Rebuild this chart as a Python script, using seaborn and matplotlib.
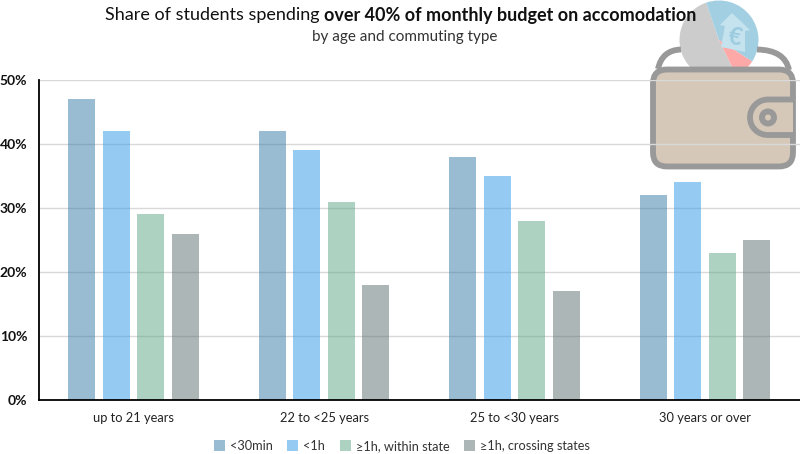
import matplotlib
matplotlib.use("Agg")
import matplotlib.pyplot as plt
import pandas as pd
import seaborn as sns
from matplotlib.patches import Circle, FancyBboxPatch, PathPatch, Polygon, Wedge
from matplotlib.path import Path

ages = ["up to 21 years", "22 to <25 years", "25 to <30 years", "30 years or over"]
commute = ["<30min", "<1h", "≥1h, within state", "≥1h, crossing states"]
under_30min = [47, 42, 38, 32]
under_1h = [42, 39, 35, 34]
within_state = [29, 31, 28, 23]
crossing_states = [26, 18, 17, 25]
colors = ["#377ba7", "#2d99e9", "#5da787", "#5d6f71"]

sns.set_style("white")
plt.rcParams["font.family"] = ["Lato", "DejaVu Sans"]

df = pd.DataFrame({
    "age": ages * 4,
    "commute": [c for c in commute for _ in ages],
    "share": under_30min + under_1h + within_state + crossing_states,
})

fig = plt.figure(figsize=(8, 4.54), dpi=100)
ax = fig.add_axes([38.5 / 800, 54 / 454, 761.5 / 800, 320 / 454])
ax.set_zorder(2)
ax.patch.set_visible(False)

# wallet icon sits behind the chart, gridlines run over it
icon = fig.add_axes([0, 0, 1, 1], zorder=1)
icon.set_xlim(0, 800)
icon.set_ylim(454, 0)
icon.axis("off")

gray = "#999999"
tan = "#d5c8b8"
pie_c = (719, 40)
# y axis is flipped here, so the angles run clockwise
icon.add_patch(Wedge(pie_c, 39.5, 64, 251, fc="#cccccc", ec="none"))
icon.add_patch(Wedge(pie_c, 39.5, -109, 33, fc="#a3cfe2", ec="none"))
icon.add_patch(Wedge(pie_c, 39.5, 33, 64, fc="#ffa8a8", ec="none"))
icon.add_patch(Polygon([(732, 13), (750, 30), (745, 31), (745, 52), (721, 47), (725, 26), (720, 25)],
                       fc="#c5e3ee", ec="none"))
icon.text(735, 37, "€", fontsize=17, fontweight="bold", color="#9ccbe0", ha="center", va="center", rotation=-12)

for verts in ([(658, 69), (662, 50), (681, 49.5)], [(757, 49.5), (785, 50), (789, 70)]):
    icon.add_patch(PathPatch(Path(verts, [Path.MOVETO, Path.CURVE3, Path.CURVE3]),
                             fc="none", ec=gray, lw=4.2))
icon.add_patch(FancyBboxPatch((653, 69.5), 140, 97, boxstyle="round,pad=0,rounding_size=14",
                              fc=tan, ec=gray, lw=4.2))
clasp = [(793, 99.5), (768, 99.5), (758, 99.5), (750, 107.5), (750, 117.5),
         (750, 127.5), (758, 135), (768, 135), (793, 135)]
clasp_codes = [Path.MOVETO, Path.LINETO, Path.CURVE4, Path.CURVE4, Path.CURVE4,
               Path.CURVE4, Path.CURVE4, Path.CURVE4, Path.LINETO]
icon.add_patch(PathPatch(Path(clasp, clasp_codes), fc=tan, ec=gray, lw=4.2))
icon.add_patch(Circle((768, 117.5), 9, fc=gray, ec="none"))
icon.add_patch(Circle((768, 117.5), 3, fc=tan, ec="none"))

sns.barplot(data=df, x="age", y="share", hue="commute", order=ages, hue_order=commute,
            palette=colors, width=0.725, gap=0.22, alpha=0.5, saturation=1, linewidth=0, ax=ax, legend=True)

ax.set_ylim(0, 50)
ax.set_yticks([0, 10, 20, 30, 40, 50])
ax.set_yticklabels(["0%", "10%", "20%", "30%", "40%", "50%"], fontsize=10, fontweight="bold", color="#111111")
ax.tick_params(axis="y", length=0, pad=8)
ax.tick_params(axis="x", length=0, pad=9, labelsize=9.3, labelcolor="#222222")
ax.set_xlabel("")
ax.set_ylabel("")
ax.set_axisbelow(True)
ax.grid(axis="y", color="#d9d9d9", lw=1)
for s in ("top", "right"):
    ax.spines[s].set_visible(False)
for s in ("left", "bottom"):
    ax.spines[s].set_color("black")
    ax.spines[s].set_linewidth(1.3)

ax.legend(loc="center", bbox_to_anchor=(402 / 800, 1 - 446 / 454), bbox_transform=fig.transFigure,
          ncol=4, frameon=False, fontsize=9.2, handlelength=0.85, handleheight=0.85,
          handletextpad=0.4, columnspacing=1.15, labelcolor="#333333", borderaxespad=0)

# title with bold middle part
parts = [("Share of students spending ", "normal"), ("over 40% of monthly budget on accomodation", "bold")]
fig.canvas.draw()
x = 105
for txt, weight in parts:
    t = fig.text(x / 800, 1 - 15 / 454, txt, fontsize=13,
                 fontweight=weight, color="#111111", va="center", ha="left", zorder=5)
    x = t.get_window_extent(fig.canvas.get_renderer()).x1
fig.text(405 / 800, 1 - 37 / 454, "by age and commuting type", fontsize=11, color="#333333", ha="center", va="center")

fig.savefig("out.png", dpi=100)
